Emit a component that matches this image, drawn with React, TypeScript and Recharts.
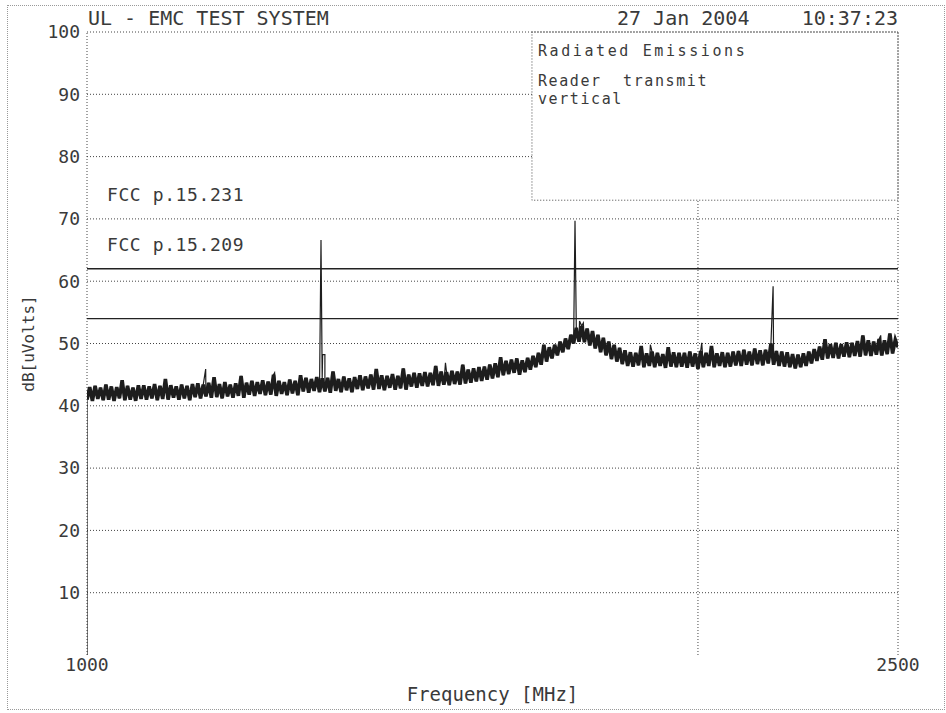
import React from 'react';
import {
  ComposedChart,
  Line,
  XAxis,
  YAxis,
  ReferenceLine,
  ReferenceArea,
} from 'recharts';

// sweep readings, 5 MHz apart starting at 1000 MHz (dBuV)
const traceStart = 1000;
const traceStep = 5;
const traceLevels = [
  41.0, 43.0, 40.8, 43.2, 41.1, 42.9, 40.9, 43.4, 41.0, 43.1, 40.8, 43.0, 41.2, 44.1, 40.9, 43.2, 41.0, 42.9, 40.8, 43.3,
  41.1, 43.3, 41.0, 43.1, 41.2, 43.5, 40.9, 43.2, 41.1, 44.3, 41.0, 43.3, 41.3, 43.1, 41.0, 43.4, 41.2, 43.2, 40.9, 43.5,
  41.4, 43.6, 41.2, 43.4, 41.5, 43.7, 41.3, 44.6, 41.4, 43.5, 41.2, 43.8, 41.5, 43.4, 41.3, 43.6, 41.6, 44.8, 41.3, 43.7,
  41.8, 44.0, 41.6, 43.8, 41.9, 44.1, 41.7, 43.9, 41.8, 45.0, 41.6, 44.0, 41.9, 43.8, 41.7, 44.2, 42.0, 44.0, 41.7, 44.9,
  42.3, 44.5, 42.1, 44.3, 42.4, 44.6, 42.2, 44.4, 42.3, 44.5, 42.1, 45.5, 42.4, 44.3, 42.2, 44.7, 42.5, 44.4, 42.2, 44.6,
  42.7, 44.9, 42.5, 44.7, 42.8, 45.0, 42.6, 45.9, 42.7, 44.9, 42.5, 44.8, 42.9, 45.1, 42.6, 44.8, 42.8, 46.0, 42.6, 45.0,
  43.1, 45.3, 42.9, 45.2, 43.2, 45.4, 43.1, 45.3, 43.3, 46.4, 43.2, 45.5, 43.4, 45.4, 43.3, 45.6, 43.5, 45.5, 43.4, 46.6,
  43.6, 45.8, 43.7, 46.0, 43.9, 46.2, 44.0, 46.3, 44.2, 46.6, 44.4, 46.8, 44.6, 47.8, 44.9, 47.2, 45.1, 47.4, 45.3, 47.6,
  45.0, 47.3, 45.4, 47.7, 45.8, 48.0, 46.2, 48.5, 46.6, 49.8, 47.1, 49.4, 47.6, 49.8, 48.1, 50.3, 48.6, 50.8, 49.1, 51.4,
  50.0, 52.5, 50.3, 52.8, 50.2, 52.4, 49.7, 52.0, 49.2, 51.4, 48.6, 50.9, 48.1, 50.3, 47.5, 49.8, 47.1, 49.3, 46.7, 48.9,
  46.4, 48.6, 46.3, 48.5, 46.5, 49.6, 46.2, 48.4, 46.4, 48.7, 46.2, 48.5, 46.4, 48.3, 46.1, 49.4, 46.3, 48.6, 46.2, 48.5,
  46.3, 48.5, 46.1, 48.7, 46.3, 48.4, 45.9, 48.8, 46.2, 48.5, 46.4, 49.6, 46.2, 48.4, 46.4, 48.6, 46.2, 48.5, 46.3, 48.7,
  46.5, 48.8, 46.4, 49.0, 46.6, 48.7, 46.5, 49.2, 46.7, 48.9, 46.5, 49.0, 46.8, 50.0, 46.6, 48.8, 46.4, 48.7, 46.3, 48.6,
  46.2, 48.3, 46.0, 48.2, 46.2, 48.4, 46.4, 48.7, 46.8, 49.1, 47.2, 49.5, 47.4, 50.7, 47.6, 49.9, 47.7, 50.1, 47.6, 49.9,
  47.9, 50.2, 47.8, 50.1, 48.0, 50.4, 47.9, 51.3, 48.1, 50.5, 48.0, 50.3, 48.2, 50.7, 48.1, 50.5, 48.3, 51.6, 48.4, 50.6,
  49.4,
];

// narrow emissions sitting on top of the noise floor
const spikeFreqs = [1000, 1219.5, 1347, 1432.8, 1435.8, 1440, 1663, 1902.6, 1911, 1918, 2042, 2137, 2269, 2468];
const spikeLevels = [0, 45.9, 45.3, 66.6, 48.2, 48.2, 46.9, 69.7, 53.6, 53.3, 49.8, 50.1, 59.2, 51.3];

const yTicks = [10, 20, 30, 40, 50, 60, 70, 80, 90, 100];
const xTicks = [1000, 2500];
const gridLevels = [10, 20, 30, 40, 50, 60, 70, 80, 90, 100];

const limitNames = ['FCC p.15.231', 'FCC p.15.209'];
const limitLevels = [62, 54];

const markerFreq = 2130;
const boxFreq = 1823;
const boxLevel = 73;

const FONT = '"DejaVu Sans Mono", monospace';
const INK = '#3a3a3a';

// noise rows carry `band` too, so the heavy floor line skips the spikes
const data = [
  ...spikeFreqs.map((f, i) => ({ f, v: spikeLevels[i] })),
  ...traceLevels.map((v, i) => ({ f: traceStart + i * traceStep, v, band: v })),
].sort((a, b) => a.f - b.f);

const LimitLabel = ({ viewBox, text }: any) => {
  if (!viewBox) return null;
  return (
    <text x={viewBox.x + 20} y={viewBox.y - 68} fill={INK} fontSize={18} fontFamily={FONT} letterSpacing={0.6}>
      {text}
    </text>
  );
};

const BoxLabel = ({ viewBox }: any) => {
  if (!viewBox) return null;
  const x = viewBox.x + 6;
  return (
    <g fill={INK} fontSize={15} fontFamily={FONT} letterSpacing={2.6}>
      <text x={x} y={viewBox.y + 24}>Radiated Emissions</text>
      <text x={x} y={viewBox.y + 54} style={{ whiteSpace: 'pre' }} letterSpacing={1.6}>Reader  transmit</text>
      <text x={x} y={viewBox.y + 72} letterSpacing={1.6}>vertical</text>
    </g>
  );
};

const dotted = { stroke: '#444', strokeDasharray: '1 2', strokeWidth: 1 };

const headerStyle: React.CSSProperties = {
  position: 'absolute',
  top: 7,
  fontFamily: FONT,
  fontSize: 20,
  color: INK,
  lineHeight: '22px',
};

export default function App() {
  return (
    <div style={{ position: 'absolute', left: 0, top: 0, width: 946, height: 713, background: '#fff' }}>
      <div
        style={{
          position: 'absolute',
          left: 7,
          top: 5,
          width: 936,
          height: 703,
          border: '1px dotted #999',
        }}
      />
      <div style={{ ...headerStyle, left: 88 }}>UL - EMC TEST SYSTEM</div>
      <div style={{ ...headerStyle, left: 617 }}>27 Jan 2004</div>
      <div style={{ ...headerStyle, right: 48 }}>10:37:23</div>
      <ComposedChart
        width={946}
        height={713}
        data={data}
        margin={{ top: 32, right: 48, bottom: 8, left: 0 }}
        style={{ position: 'absolute', left: 0, top: 0 }}
      >
        <XAxis
          dataKey="f"
          type="number"
          domain={[1000, 2500]}
          ticks={xTicks}
          allowDataOverflow
          height={50}
          axisLine={false}
          tickLine={false}
          tickSize={0}
          tickMargin={3}
          tick={{ fill: INK, fontSize: 18, fontFamily: FONT }}
          label={{ value: 'Frequency [MHz]', position: 'insideBottom', offset: 4, fill: INK, fontSize: 19, fontFamily: FONT }}
        />
        <YAxis
          type="number"
          domain={[0, 100]}
          ticks={yTicks}
          allowDataOverflow
          width={87}
          axisLine={false}
          tickLine={false}
          tickSize={0}
          tickMargin={7}
          tick={{ fill: INK, fontSize: 18, fontFamily: FONT }}
          label={{
            value: 'dB[uVolts]',
            angle: -90,
            position: 'insideLeft',
            offset: 28,
            fill: INK,
            fontSize: 16,
            fontFamily: FONT,
            style: { textAnchor: 'middle' },
          }}
        />
        {gridLevels.map((lv) =>
          lv > boxLevel && lv < 100 ? (
            <ReferenceLine key={'g' + lv} segment={[{ x: 1000, y: lv }, { x: boxFreq, y: lv }]} {...dotted} />
          ) : (
            <ReferenceLine key={'g' + lv} y={lv} {...dotted} />
          )
        )}
        <ReferenceLine x={1000} {...dotted} />
        <ReferenceLine x={2500} {...dotted} />
        <ReferenceLine segment={[{ x: markerFreq, y: 0 }, { x: markerFreq, y: boxLevel }]} {...dotted} />
        <ReferenceArea
          x1={boxFreq}
          x2={2500}
          y1={boxLevel}
          y2={100}
          fill="none"
          {...dotted}
          label={<BoxLabel />}
        />
        {limitLevels.map((lv, i) => (
          <ReferenceLine
            key={limitNames[i]}
            y={lv}
            stroke="#222"
            strokeWidth={1.4}
            label={<LimitLabel text={limitNames[i]} />}
          />
        ))}
        <Line
          dataKey="band"
          type="linear"
          stroke="#1e1e1e"
          strokeWidth={3.6}
          connectNulls
          dot={false}
          isAnimationActive={false}
        />
        <Line
          dataKey="v"
          type="linear"
          stroke="#1e1e1e"
          strokeWidth={1.2}
          dot={false}
          isAnimationActive={false}
        />
      </ComposedChart>
    </div>
  );
}
